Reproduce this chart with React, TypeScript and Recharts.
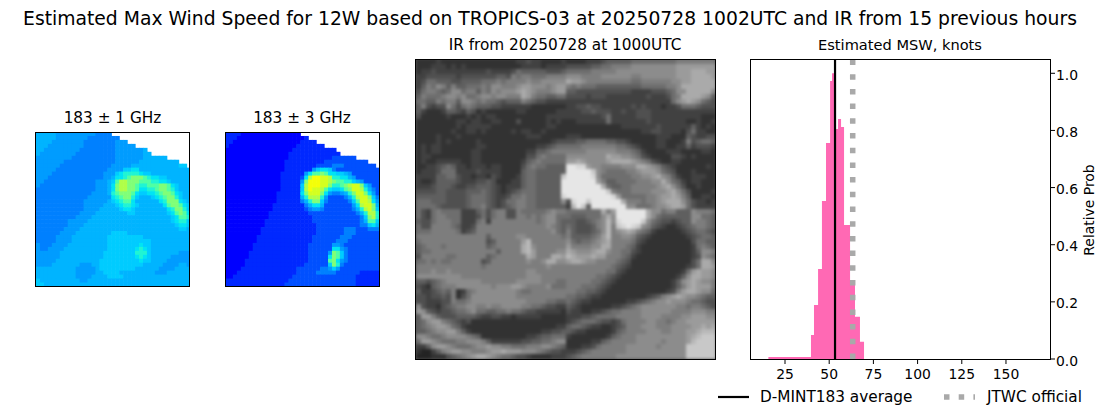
import {
  Area,
  ComposedChart,
  ReferenceLine,
  Scatter,
  ScatterChart,
  XAxis,
  YAxis,
} from "recharts";

const FONT = "'DejaVu Sans', sans-serif";

// histogram bin edges (knots) and relative probability of each bin, last edge closes the shape
const binEdges = [15.6, 39.7, 41.4, 43.7, 45.9, 48.2, 50.5, 51.6, 53.3, 55, 56.7, 58.4, 61.8, 64.6, 67.4, 69.7];
const binProbs = [0.007, 0.084, 0.189, 0.315, 0.553, 0.756, 0.973, 1.0, 0.805, 0.84, 0.812, 0.469, 0.26, 0.148, 0.06, 0];
const xTicks = [25, 50, 75, 100, 125, 150];
const yTicks = [0, 0.2, 0.4, 0.6, 0.8, 1.0];
const dmintAverage = 53.3;
const jtwcOfficial = 63.3;

// brightness temperature levels, "." is no data
const jetLevels: Record<string, string> = {
  "0": "#0000ff", "1": "#0028ff", "2": "#0050ff", "3": "#0080ff", "4": "#009cff",
  "5": "#00b4ff", "6": "#00ccff", "7": "#00e4f4", "8": "#20f4d4", "9": "#50ffa4",
  a: "#80ff78", b: "#b0ff48", c: "#d4ff20", d: "#f4ff08",
};

const ghz1Rows = [
  "5555544444444443333....................",
  "555554444444433333333..................",
  "55554444444433333333444................",
  "5554444444443333333344444..............",
  "5544444444433333333344444445...........",
  "54444444443333333333444444455..........",
  "444444444333333333334444444555555......",
  "444444433333333333334444445555555555...",
  "44444433333333333334444455555555555566.",
  "444443333333333333444466775555555555555",
  "444433333333333334446788887665555555555",
  "444333333333333334457789aaa987766555555",
  "443333333333333444569bbaaa9998877655555",
  "43333333333333344457abbaa988999aa976555",
  "33333333333333344457abbaa977889aa986555",
  "333333333333334444589aaa97667789aa97655",
  "3333333333333444444789aa865556789aa8655",
  "333333333333444444567899755555578aaa765",
  "3333333333334444455567887655555579aa976",
  "33333333333344445555567765555555578aa86",
  "333333333334444555555556655555555679a97",
  "333333333344445555555555555555555567998",
  "333333334444455555555555555555555567886",
  "333333334444555555555555555555555556776",
  "333333344445555555555555555555555555665",
  "333333444455555555566665555555555555555",
  "333334444555555555666666666555555555555",
  "333334444555555555666666666665555555555",
  "433344445555555555666666667665555555555",
  "433444455555555555666666678765555555555",
  "444444555555555556666666688865555555444",
  "444444555555555556666666678765555544444",
  "444445555555555566666666667665555444444",
  "444455555554445566666666666555554444554",
  "555555555544444566666666655555544445555",
  "555555555544444556666555555555444555555",
  "555555555544445555666655555555555555555",
  "655555555554455555555555555555555555555",
  "665555555555555555555555555555555555555",
];

const ghz3Rows = [
  "1111000000000000000....................",
  "111000000000000000001..................",
  "11000000000000000001111................",
  "1000000000000000001111111..............",
  "0000000000000000011111111111...........",
  "00000000000000001111111111111..........",
  "000000000000000011111111111222222......",
  "000000000000000111111111122222222222...",
  "00000000000000011111111222233322222222.",
  "000000000000000111111146776322222222222",
  "000000000000001111114799a97766542222222",
  "000000000000001111127bddccb887754222222",
  "00000000000000111114adddccba99886542222",
  "00000000000000111116bdddcca889abcca6422",
  "00000000000000111116bdccb976679accb8532",
  "00000000000001111117accca7433458acca742",
  "000000000000011111158bbb842222358bcca63",
  "0000000000000111111358aa6322222369ccb74",
  "00000000000011111111357752222222" + "47bcca5",
  "00000000000011111111234432222222" + "358bca6",
  "000000000001111111111222222222222358bb8",
  "000000000001111111111122222222222236ab8",
  "000000000011111111111122222222222235996",
  "000000000011111111111112222222222233675",
  "000000000111111111111112222222333222333",
  "000000000111111111111112222222333222222",
  "000000001111111111111122222223332222222",
  "000000001111111111111122222233322222222",
  "000000011111111111111222222443222222222",
  "000000011111111111111222222774322222222",
  "000000111111111111111222224a96322222222",
  "000000111111111111111222227a96322222222",
  "000001111111111111111222229a74322222222",
  "000001111111111111112222226a83222222222",
  "000011111111111111222222334642222222222",
  "000111111111111111222223333322222211111",
  "001111111111111112222222222222222111111",
  "111111111111111122222222222222222111111",
  "111111111111111222222222222222222111111",
];

// infrared gray levels by quadrant, 0 darkest to e brightest
const irTopLeft = [
  "222232222222222222223343322223",
  "222333232322222222222333323333",
  "233433333333334333346555554445",
  "334444443444444455476776667777",
  "346655544555566676777787788888",
  "357687575566676887778998887899",
  "467765688677576878889a98777899",
  "576667887866788788777a97665566",
  "665576775887676654555765443333",
  "574344864676555443333332222222",
  "532223554354232222223322222233",
  "422222322232323322222222223333",
  "222222223323322332224222223232",
  "222222223233333222222222223322",
  "222222232233232222232332232222",
  "222232223222222222222233322222",
  "222232322222322222222222222344",
  "232332222222332222222222334566",
  "232332222223322222222233556777",
  "233222222223322222222244676666",
  "232233333223322222222356766666",
  "223345653323332332222467665555",
  "233346663333433332222566555555",
  "33335566433233243222356655555c",
  "32235555433344542223356655555e",
  "33345554334455543233356655555e",
  "44445544445556543234566655555e",
  "55555544445666543346676655555d",
  "666555444456665434667766555558",
  "666654444456675434567766555555",
];

const irTopRight = [
  "222233345555566666666677777777",
  "444445566777788888888899999999",
  "6666677777888888888888999aaa99",
  "8887777888888778888888999aaaa9",
  "a998777777777667777778899aaaaa",
  "76766655555555566666778aaaaaaa",
  "554444444444433334445688aaaaa8",
  "44443444333333334333467aaaa985",
  "333333333333333333333689a98654",
  "334454433333343433323346665444",
  "333445444334334443333333333333",
  "333333346333334443333333333222",
  "223333336333333343333333223223",
  "222222222223333333433333353232",
  "222222222222222334433332463322",
  "333222222222222222333222543344",
  "445566665544322222332223745665",
  "666777777766543222332233534443",
  "777788888877765322223332222332",
  "88888888a998876432222443232222",
  "99a988889aaaa98764322332222222",
  "eedd9887777888aa98754322222232",
  "eeeeec876666778999865422232222",
  "eeeeed866666677889a87532233322",
  "eeeeee9755666677788a8653233222",
  "eeeeeeea655667777789a864223222",
  "eeeeeeeec766677778889a86422223",
  "eeeeeeeeed96666677899a97522332",
  "4deeceeeeeea77767789aaa8643323",
  "3bec5eeeeeee886667889aa9643333",
];

const irBottomLeft = [
  "643676666333564677447666667877",
  "643677666333464677447767678866",
  "544677766333673777777777678865",
  "644777765334777777777777778765",
  "666777776345777777777777777865",
  "777777777777775777778877777776",
  "6777777777777745777779b7777777",
  "567776777777775677777ab8777777",
  "566777777777777757777ab9777788",
  "4777776677777756777777a9777aa9",
  "66767667777774577777778778aa88",
  "777777777777767777777777778777",
  "777877877777777777777788777777",
  "888888888777777777777788877777",
  "554567888888877777778888877766",
  "432567778888888788899877778666",
  "533456572367888888887667777777",
  "443445472468888888887777777777",
  "443334476678888888888877776655",
  "843324567788778778888776654433",
  "985434456678665566766544333332",
  "599754445555433443323333322222",
  "568997654342222222222222222222",
  "567899865322222222222222222233",
  "556788997532222222222222233445",
  "887667888876522222222233455666",
  "699876667788875333333445566788",
  "335899876667889887766677788765",
  "21135789988777899a999888765443",
  "111222456789aa9876654432222333",
];

const irBottomRight = [
  "6666666a79eeeeeea8867755587776",
  "65556668a8eeeeeea8655555588665",
  "55445678b8deeeec86544345587765",
  "65444578b7cdedc875432234567765",
  "75444568b789a97653222223456654",
  "75555679b778875432222222345665",
  "86566789a777764322222222246655",
  "9777788aa777653222222222236765",
  "a98889aa8776643222222222235887",
  "ba999a997776532222222222234876",
  "9aa988777765422222222222246aa8",
  "777777777654322222222222346aa9",
  "77777777664322222222222369a998",
  "7777776654322222222222358aa998",
  "7777766543222222222223589a9887",
  "7776665432222222222223579a9997",
  "776655432222222222223479aa9886",
  "6655433222222222345789a9887655",
  "654332222222334567889888766544",
  "543222222334567888888877677654",
  "433223345667777888888777788877",
  "333445666677777888877778899988",
  "345666544346777788776788999999",
  "566543322345777888777888899a9a",
  "54332222235677778887788899abbb",
  "3222222235677788888888889abccc",
  "2222233567777788888788889bcccc",
  "222334677777888888788888cccccc",
  "334567777777888888888888cccccc",
  "456777777788888888888888cccccc",
];

const irRows = [
  ...irTopLeft.map((row, i) => row + irTopRight[i]),
  ...irBottomLeft.map((row, i) => row + irBottomRight[i]),
];

type Cell = { col: number; row: number; color: string };

function gridCells(rows: string[], colorOf: (c: string) => string): Cell[] {
  const cells: Cell[] = [];
  rows.forEach((line, row) => {
    line.split("").forEach((ch, col) => {
      if (ch !== ".") cells.push({ col: col + 0.5, row: row + 0.5, color: colorOf(ch) });
    });
  });
  return cells;
}

const grayOf = (c: string) => {
  const g = 20 + parseInt(c, 16) * 15;
  return `rgb(${g},${g},${g})`;
};

function GridPanel({ rows, size, colorOf }: { rows: string[]; size: number; colorOf: (c: string) => string }) {
  const nCols = rows[0].length;
  const nRows = rows.length;
  const cw = size / nCols;
  const ch = size / nRows;
  return (
    <ScatterChart width={size} height={size} margin={{ top: 0, right: 0, bottom: 0, left: 0 }}>
      <XAxis type="number" dataKey="col" domain={[0, nCols]} hide />
      <YAxis type="number" dataKey="row" domain={[0, nRows]} reversed hide />
      <Scatter
        data={gridCells(rows, colorOf)}
        isAnimationActive={false}
        shape={(p: any) => (
          <rect
            x={p.cx - cw / 2}
            y={p.cy - ch / 2}
            width={cw + 0.6}
            height={ch + 0.6}
            fill={p.payload.color}
          />
        )}
      />
    </ScatterChart>
  );
}

function Frame({ left, top, width, height }: { left: number; top: number; width: number; height: number }) {
  return (
    <div
      style={{
        position: "absolute",
        left,
        top,
        width,
        height,
        boxSizing: "border-box",
        border: "1px solid #000",
        pointerEvents: "none",
      }}
    />
  );
}

function Title({ text, cx, y, size }: { text: string; cx: number; y: number; size: number }) {
  return (
    <div
      style={{
        position: "absolute",
        left: cx - 545,
        width: 1090,
        top: y - size,
        height: size * 2,
        lineHeight: `${size * 2}px`,
        textAlign: "center",
        fontSize: size,
        whiteSpace: "nowrap",
      }}
    >
      {text}
    </div>
  );
}

function Histogram() {
  const data = binEdges.map((edge, i) => ({ edge, prob: binProbs[i] }));
  return (
    <ComposedChart width={350} height={409} data={data} margin={{ top: 59, right: 0, left: 0, bottom: 20 }}>
      <XAxis
        type="number"
        dataKey="edge"
        domain={[5.2, 174.9]}
        ticks={xTicks}
        height={30}
        tickSize={5}
        tickMargin={5}
        interval={0}
        axisLine={false}
        tickLine={{ stroke: "#000" }}
        tick={{ fontSize: 13.9, fill: "#000" }}
      />
      <YAxis
        orientation="right"
        domain={[0, 1.05]}
        ticks={yTicks}
        width={50}
        tickSize={5}
        tickMargin={1}
        interval={0}
        axisLine={false}
        tickLine={{ stroke: "#000" }}
        tick={(p: any) => (
          <text x={p.x} y={p.y + 6.5} fontSize={13.9} fill="#000" textAnchor="start">
            {Number(p.payload.value).toFixed(1)}
          </text>
        )}
      />
      <Area
        type="stepAfter"
        dataKey="prob"
        stroke="none"
        fill="#ff69b4"
        fillOpacity={1}
        baseValue={0}
        dot={false}
        activeDot={false}
        isAnimationActive={false}
      />
      <ReferenceLine x={dmintAverage} stroke="#000" strokeWidth={2.2} />
      <ReferenceLine x={jtwcOfficial} stroke="#a9a9a9" strokeWidth={5.5} strokeDasharray="5.5 9.2" />
    </ComposedChart>
  );
}

export default function App() {
  return (
    <div
      style={{
        position: "absolute",
        left: 0,
        top: 0,
        width: 1100,
        height: 409,
        background: "#fff",
        fontFamily: FONT,
        color: "#000",
        overflow: "hidden",
      }}
    >
      <Title text="Estimated Max Wind Speed for 12W based on TROPICS-03 at 20250728 1002UTC and IR from 15 previous hours" cx={550} y={19} size={18.75} />
      <Title text="183 ± 1 GHz" cx={112.5} y={118} size={15.3} />
      <Title text="183 ± 3 GHz" cx={302} y={118} size={15.3} />
      <Title text="IR from 20250728 at 1000UTC" cx={565} y={45} size={15.3} />
      <Title text="Estimated MSW, knots" cx={900} y={45} size={14.6} />

      <div style={{ position: "absolute", left: 35.5, top: 132 }}>
        <GridPanel rows={ghz1Rows} size={154.5} colorOf={(c) => jetLevels[c]} />
      </div>
      <Frame left={35} top={132} width={155} height={155} />
      <div style={{ position: "absolute", left: 225, top: 132 }}>
        <GridPanel rows={ghz3Rows} size={154.5} colorOf={(c) => jetLevels[c]} />
      </div>
      <Frame left={225} top={132} width={155} height={155} />

      <div style={{ position: "absolute", left: 415.5, top: 59, width: 300, height: 300, overflow: "hidden", background: "#555" }}>
        <div style={{ filter: "blur(1.5px)" }}>
          <GridPanel rows={irRows} size={300} colorOf={grayOf} />
        </div>
      </div>
      <Frame left={415} top={59} width={301} height={301} />

      <div style={{ position: "absolute", left: 750, top: 0 }}>
        <Histogram />
      </div>
      <Frame left={750} top={59} width={301} height={301} />

      <div
        style={{
          position: "absolute",
          left: 1089 - 60,
          top: 210 - 10,
          width: 120,
          height: 20,
          lineHeight: "20px",
          fontSize: 13.9,
          textAlign: "center",
          transform: "rotate(-90deg)",
          whiteSpace: "nowrap",
        }}
      >
        Relative Prob
      </div>

      <svg style={{ position: "absolute", left: 700, top: 385 }} width={300} height={24}>
        <line x1={18} x2={49} y1={12} y2={12} stroke="#000" strokeWidth={2.2} />
        <line x1={244} x2={275} y1={12} y2={12} stroke="#a9a9a9" strokeWidth={5.5} strokeDasharray="5.5 9.2" />
      </svg>
      <div style={{ position: "absolute", left: 760, top: 387, fontSize: 15.3, lineHeight: "20px", whiteSpace: "nowrap" }}>
        D-MINT183 average
      </div>
      <div style={{ position: "absolute", left: 987, top: 387, fontSize: 15.3, lineHeight: "20px", whiteSpace: "nowrap" }}>
        JTWC official
      </div>
    </div>
  );
}
